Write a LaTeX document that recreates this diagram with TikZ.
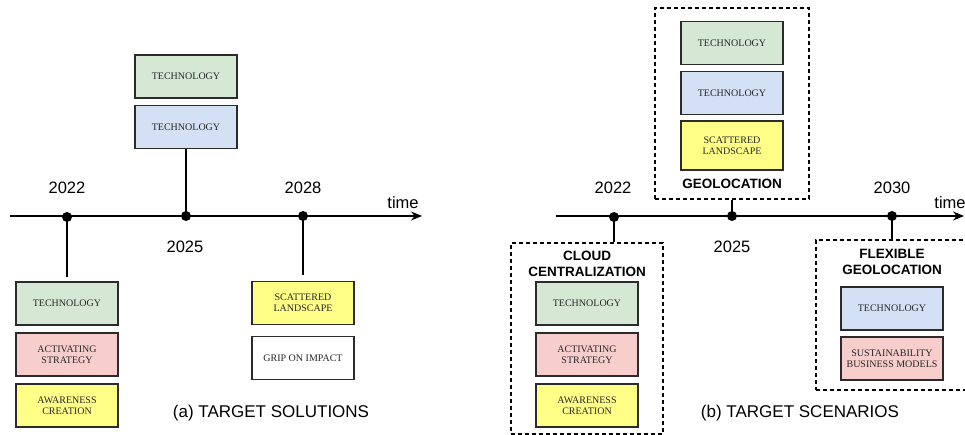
\documentclass[tikz,border=0pt]{standalone}
\usepackage{fontspec}
\setmainfont{Liberation Serif}
\setsansfont{Liberation Sans}
\usetikzlibrary{arrows.meta}

\definecolor{techgreen}{HTML}{D5E8D4}
\definecolor{techblue}{HTML}{D4E1F5}
\definecolor{softpink}{HTML}{F8CECC}
\definecolor{softyellow}{HTML}{FFFF88}
\definecolor{boxline}{HTML}{2B2B2B}

\tikzset{
  item/.style={draw=boxline, line width=1.2pt, minimum width=102pt, minimum height=43pt,
    inner sep=0pt, align=center, text=black!85, font=\rmfamily\fontsize{10}{11}\selectfont},
  frame/.style={draw=black, line width=1.2pt, dash pattern=on 4pt off 3pt, inner sep=0pt},
  tdot/.style={circle, fill=black, minimum size=10pt, inner sep=0pt},
  axis/.style={line width=1.4pt, -{Stealth[length=11pt,width=9pt]}},
  stem/.style={line width=1.4pt},
  yearlbl/.style={font=\sffamily\fontsize{16.5}{18}\selectfont},
  caption/.style={font=\sffamily\fontsize{17}{19}\selectfont},
  title/.style={font=\sffamily\bfseries\fontsize{13.5}{16}\selectfont, align=center},
}

\begin{document}
\begin{tikzpicture}[x=1pt, y=-1pt]
\useasboundingbox (0,0) rectangle (965,435);

% ---------- (a) target solutions ----------
\coordinate (aStart) at (10,216);
\coordinate (aEnd) at (422,216);
\draw[axis] (aStart) -- (aEnd);
\node[tdot] (a22) at (67,217) {};
\node[tdot] (a25) at (186,216) {};
\node[tdot] (a28) at (303,216) {};

\node[yearlbl] (a22y) at (67,188) {2022};
\node[yearlbl] (a25y) at (185,247) {2025};
\node[yearlbl] (a28y) at (303,188) {2028};
\node[yearlbl] (atime) at (403,203) {time};

\node[item, fill=techgreen] (a25g) at (186,76.5) {TECHNOLOGY};
\node[item, fill=techblue] (a25b) at (186,127) {TECHNOLOGY};

\node[item, fill=techgreen] (a22g) at (67,303.5) {TECHNOLOGY};
\node[item, fill=softpink] (a22p) at (67,354.5) {ACTIVATING\\STRATEGY};
\node[item, fill=softyellow] (a22y2) at (67,405.5) {AWARENESS\\CREATION};

\node[item, fill=softyellow] (a28y2) at (303,303) {SCATTERED\\LANDSCAPE};
\node[item, fill=white] (a28w) at (303,358) {GRIP ON IMPACT};

\coordinate (a22end) at (67,277);
\coordinate (a28end) at (303,275);
\draw[stem] (a22.center) -- (a22end);
\draw[stem] (a25.center) -- (a25b.south);
\draw[stem] (a28.center) -- (a28end);

\node[caption] (capA) at (271,413) {(a) TARGET SOLUTIONS};

% ---------- (b) target scenarios ----------
\coordinate (bStart) at (556,216);
\coordinate (bEnd) at (964,216);
\draw[axis] (bStart) -- (bEnd);
\node[tdot] (b22) at (614,217) {};
\node[tdot] (b25) at (732,216) {};
\node[tdot] (b30) at (892,216) {};

\node[yearlbl] (b22y) at (613,188) {2022};
\node[yearlbl] (b25y) at (732,247) {2025};
\node[yearlbl] (b30y) at (892,188) {2030};
\node[yearlbl] (btime) at (950,203) {time};

% cloud centralization
\node[frame, minimum width=152pt, minimum height=191pt] (fr22) at (587,338.5) {};
\node[title] (t22) at (587,264) {CLOUD\\CENTRALIZATION};
\node[item, fill=techgreen] (b22g) at (587,303.5) {TECHNOLOGY};
\node[item, fill=softpink] (b22p) at (587,354.5) {ACTIVATING\\STRATEGY};
\node[item, fill=softyellow] (b22y2) at (587,405.5) {AWARENESS\\CREATION};
\draw[stem] (b22.center) -- (b22.center |- fr22.north);

% geolocation
\node[frame, minimum width=154pt, minimum height=191pt] (fr25) at (732,103.5) {};
\node[item, fill=techgreen] (b25g) at (732,43) {TECHNOLOGY};
\node[item, fill=techblue] (b25b) at (732,93) {TECHNOLOGY};
\node[item, fill=softyellow, minimum height=49pt] (b25y2) at (732,145.5) {SCATTERED\\LANDSCAPE};
\node[title] (t25) at (732,184) {GEOLOCATION};
\draw[stem] (b25.center) -- (fr25.south);

% flexible geolocation
\node[frame, minimum width=156pt, minimum height=150pt] (fr30) at (894,315) {};
\node[title] (t30) at (892,262) {FLEXIBLE\\GEOLOCATION};
\node[item, fill=techblue] (b30b) at (892,308.5) {TECHNOLOGY};
\node[item, fill=softpink] (b30p) at (892,358.5) {SUSTAINABILITY\\BUSINESS MODELS};
\draw[stem] (b30.center) -- (b30.center |- fr30.north);

\node[caption] (capB) at (800,413) {(b) TARGET SCENARIOS};
\end{tikzpicture}
\end{document}
